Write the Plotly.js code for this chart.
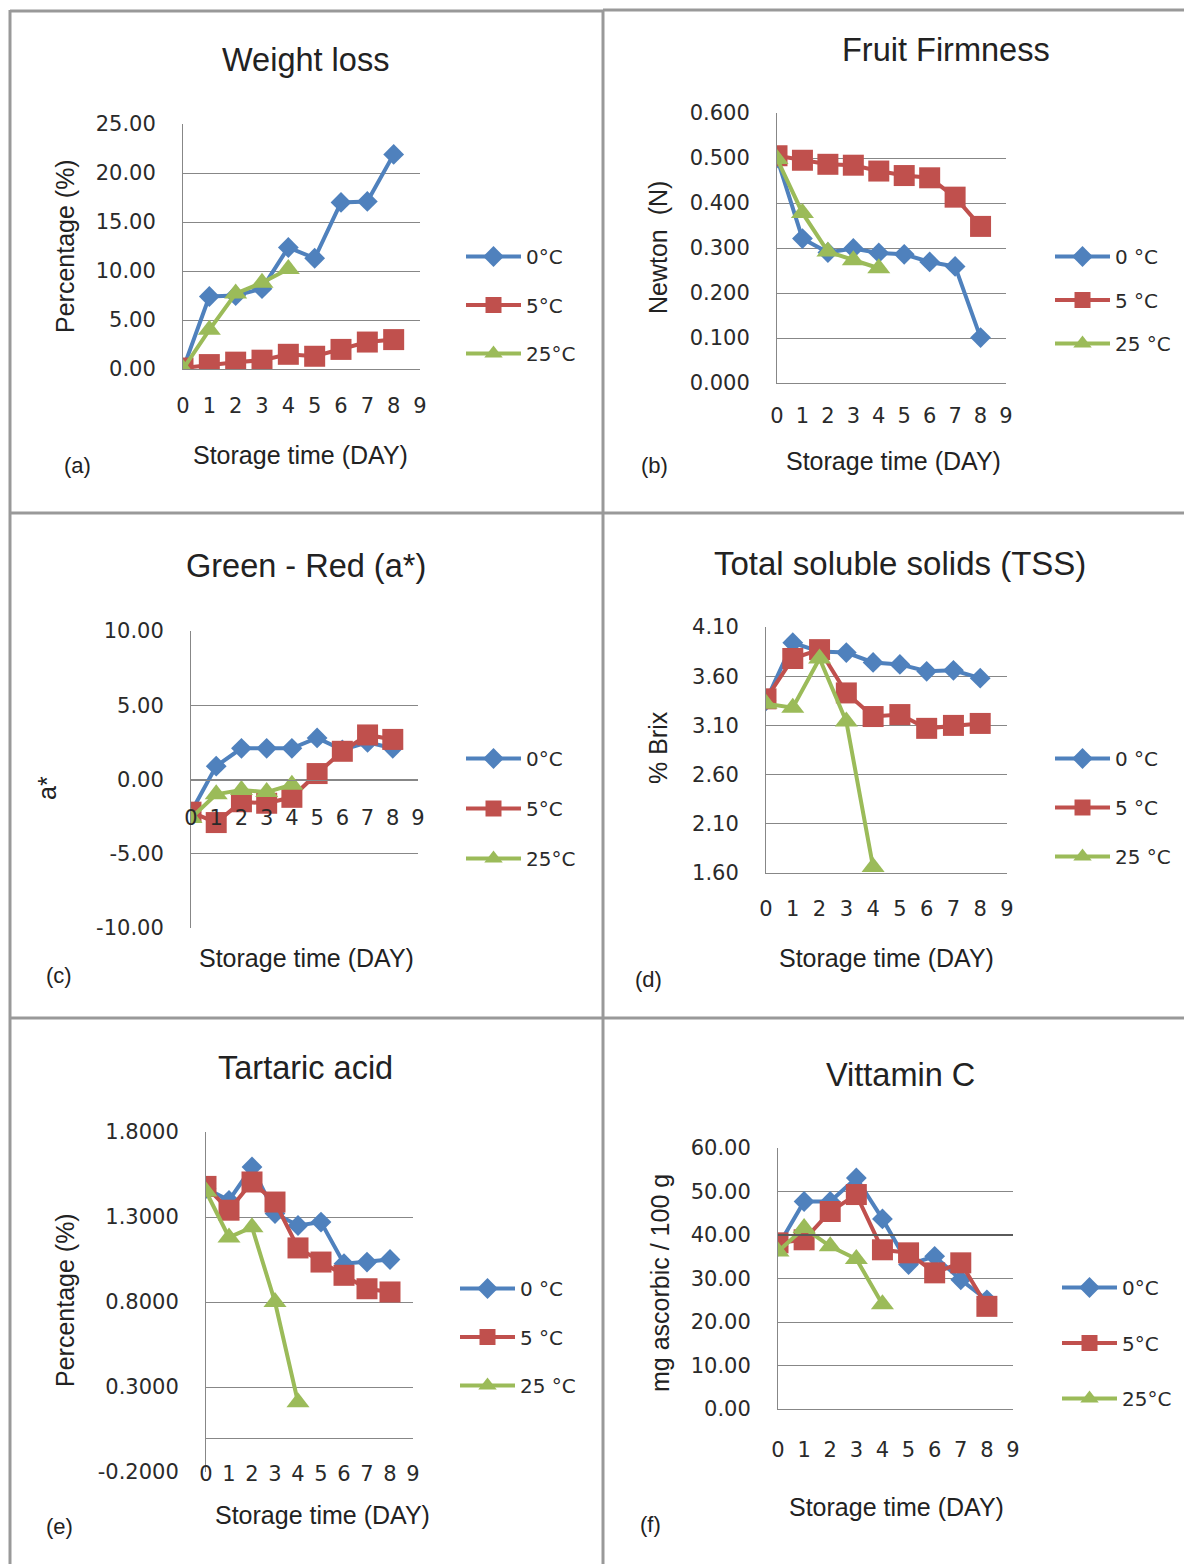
<!DOCTYPE html>
<html><head><meta charset="utf-8">
<script src="https://cdn.plot.ly/plotly-3.0.1.min.js"></script>
<style>html,body{margin:0;padding:0;background:#fff}</style>
</head><body><div id="chart" style="width:1184px;height:1564px"></div>
<script>
// ---------- data ----------
const days = [0, 1, 2, 3, 4, 5, 6, 7, 8];
const days25 = [0, 1, 2, 3, 4];
const xTickVals = [0, 1, 2, 3, 4, 5, 6, 7, 8, 9];
const xTickText = ['0', '1', '2', '3', '4', '5', '6', '7', '8', '9'];

const weightLoss0 = [0.0, 7.4, 7.5, 8.2, 12.4, 11.3, 17.0, 17.1, 21.9];
const weightLoss5 = [0.1, 0.45, 0.7, 0.9, 1.5, 1.3, 2.0, 2.75, 3.0];
const weightLoss25 = [0.0, 4.0, 7.7, 8.8, 10.2];
const weightLossTicks = [0, 5, 10, 15, 20, 25];
const weightLossTickText = ['0.00', '5.00', '10.00', '15.00', '20.00', '25.00'];

const firmness0 = [0.500, 0.321, 0.290, 0.299, 0.289, 0.286, 0.269, 0.259, 0.101];
const firmness5 = [0.505, 0.495, 0.486, 0.484, 0.471, 0.461, 0.456, 0.413, 0.348];
const firmness25 = [0.498, 0.378, 0.292, 0.273, 0.255];
const firmnessTicks = [0, 0.1, 0.2, 0.3, 0.4, 0.5, 0.6];
const firmnessTickText = ['0.000', '0.100', '0.200', '0.300', '0.400', '0.500', '0.600'];

const aStar0 = [-2.2, 0.9, 2.1, 2.1, 2.1, 2.8, 2.0, 2.5, 2.1];
const aStar5 = [-2.2, -2.9, -1.5, -1.6, -1.2, 0.4, 1.9, 3.0, 2.7];
const aStar25 = [-2.6, -1.0, -0.7, -0.85, -0.35];
const aStarTicks = [-10, -5, 0, 5, 10];
const aStarTickText = ['-10.00', '-5.00', '0.00', '5.00', '10.00'];

const tss0 = [3.35, 3.94, 3.85, 3.84, 3.74, 3.72, 3.65, 3.66, 3.58];
const tss5 = [3.37, 3.78, 3.87, 3.43, 3.19, 3.21, 3.07, 3.10, 3.12];
const tss25 = [3.32, 3.28, 3.78, 3.14, 1.66];
const tssTicks = [1.6, 2.1, 2.6, 3.1, 3.6, 4.1];
const tssTickText = ['1.60', '2.10', '2.60', '3.10', '3.60', '4.10'];

const tartaric0 = [1.467, 1.398, 1.594, 1.320, 1.250, 1.270, 1.025, 1.035, 1.050];
const tartaric5 = [1.480, 1.340, 1.506, 1.388, 1.118, 1.035, 0.957, 0.878, 0.859];
const tartaric25 = [1.45, 1.18, 1.24, 0.80, 0.21];
const tartaricTicks = [-0.2, 0.3, 0.8, 1.3, 1.8];
const tartaricTickText = ['-0.2000', '0.3000', '0.8000', '1.3000', '1.8000'];

const vitC0 = [37.4, 47.7, 47.7, 53.1, 43.7, 33.2, 35.1, 29.7, 25.1];
const vitC5 = [38.2, 38.9, 45.4, 49.3, 36.6, 35.9, 31.3, 33.6, 23.6];
const vitC25 = [36.2, 41.6, 37.4, 34.5, 24.1];
const vitCTicks = [0, 10, 20, 30, 40, 50, 60];
const vitCTickText = ['0.00', '10.00', '20.00', '30.00', '40.00', '50.00', '60.00'];

const legendA = ['0°C', '5°C', '25°C'];
const legendB = ['0 °C', '5 °C', '25 °C'];

// ---------- layout helpers ----------
const W = 1184, H = 1564;
const px = v => v / W;
const py = v => 1 - v / H;
const C0 = '#4f81bd', C5 = '#c0504d', C25 = '#9bbb59';
const GRID = '#878787';
const TICKFONT = {family: 'DejaVu Sans, Verdana, sans-serif', size: 21, color: '#2a2a2a'};
const TXT = 'Liberation Sans, Arial, sans-serif';
const ITEM_H = 29;

const panels = [
  {s0: weightLoss0, s5: weightLoss5, s25: weightLoss25, names: legendA,
   xpx: [183, 420], ypx: [124, 369], yr: [0, 25], yt: weightLossTicks, ytt: weightLossTickText,
   cross: null, xstand: 18, leg: [461, 237, 48.5],
   title: 'Weight loss', tsize: 32.5, tpos: [305, 60], ytitle: 'Percentage (%)', ytpos: [65, 246],
   xtitle: 'Storage time (DAY)', xtpos: [300, 455], label: '(a)', lpos: [78, 466]},
  {s0: firmness0, s5: firmness5, s25: firmness25, names: legendB,
   xpx: [777, 1006], ypx: [113, 383], yr: [0, 0.6], yt: firmnessTicks, ytt: firmnessTickText,
   cross: null, xstand: 14, leg: [1050, 237, 43.5],
   title: 'Fruit Firmness', tsize: 32.5, tpos: [946, 50], ytitle: 'Newton  (N)', ytpos: [658, 248],
   xtitle: 'Storage time (DAY)', xtpos: [893, 461], label: '(b)', lpos: [654, 466]},
  {s0: aStar0, s5: aStar5, s25: aStar25, names: legendA,
   xpx: [191, 418], ypx: [631, 928], yr: [-10, 10], yt: aStarTicks, ytt: aStarTickText,
   cross: 0, xstand: 19, leg: [461, 739, 50],
   title: 'Green - Red (a*)', tsize: 32.5, tpos: [306, 566], ytitle: 'a*', ytpos: [47, 788],
   xtitle: 'Storage time (DAY)', xtpos: [307, 958], label: '(c)', lpos: [59, 975]},
  {s0: tss0, s5: tss5, s25: tss25, names: legendB,
   xpx: [766, 1007], ypx: [627, 873], yr: [1.6, 4.1], yt: tssTicks, ytt: tssTickText,
   cross: null, xstand: 17, leg: [1050, 739, 49],
   title: 'Total soluble solids (TSS)', tsize: 33, tpos: [900, 563], ytitle: '% Brix', ytpos: [658, 748],
   xtitle: 'Storage time (DAY)', xtpos: [886, 958], label: '(d)', lpos: [648, 979]},
  {s0: tartaric0, s5: tartaric5, s25: tartaric25, names: legendB,
   xpx: [206, 413], ypx: [1132, 1472], yr: [-0.2, 1.8], yt: tartaricTicks, ytt: tartaricTickText,
   cross: 0, xstand: 17, leg: [455, 1269, 48.5],
   title: 'Tartaric acid', tsize: 32.5, tpos: [305, 1068], ytitle: 'Percentage (%)', ytpos: [65, 1300],
   xtitle: 'Storage time (DAY)', xtpos: [322, 1515], label: '(e)', lpos: [59, 1526]},
  {s0: vitC0, s5: vitC5, s25: vitC25, names: legendA,
   xpx: [778, 1013], ypx: [1148, 1409], yr: [0, 60], yt: vitCTicks, ytt: vitCTickText,
   cross: null, xstand: 22, leg: [1057, 1268, 55.5],
   title: 'Vittamin C', tsize: 32.5, tpos: [900, 1075], ytitle: 'mg ascorbic / 100 g', ytpos: [660, 1283],
   xtitle: 'Storage time (DAY)', xtpos: [896, 1507], label: '(f)', lpos: [650, 1524]}
];

const traces = [];
const layout = {
  width: W, height: H, margin: {l: 0, r: 0, t: 0, b: 0},
  paper_bgcolor: '#fff', plot_bgcolor: 'rgba(0,0,0,0)', showlegend: true,
  annotations: [], shapes: []
};

panels.forEach((p, i) => {
  const n = i + 1;
  const xa = n === 1 ? 'x' : 'x' + n;
  const ya = n === 1 ? 'y' : 'y' + n;
  const xKey = n === 1 ? 'xaxis' : 'xaxis' + n;
  const yKey = n === 1 ? 'yaxis' : 'yaxis' + n;
  const legKey = n === 1 ? 'legend' : 'legend' + n;
  const series = [
    {y: p.s0, x: days, c: C0, sym: 'diamond', sz: 16, name: p.names[0]},
    {y: p.s5, x: days, c: C5, sym: 'square', sz: 21, name: p.names[1]},
    {y: p.s25, x: days25, c: C25, sym: 'triangle-up', sz: 20, name: p.names[2]}
  ];
  series.forEach((s, k) => {
    traces.push({
      type: 'scatter', mode: 'lines+markers', x: s.x, y: s.y, name: s.name,
      xaxis: xa, yaxis: ya, legend: legKey, legendgroup: 'g' + n + '_' + k,
      line: {color: s.c, width: 4},
      marker: {symbol: s.sym, size: s.sz, color: s.c, line: {width: 0}},
      hoverinfo: 'skip'
    });
  });
  const yd = [py(p.ypx[1]), py(p.ypx[0])];
  const xaxis = {
    domain: [px(p.xpx[0]), px(p.xpx[1])], range: [0, 9], anchor: ya,
    tickmode: 'array', tickvals: xTickVals, ticktext: xTickText,
    showgrid: false, zeroline: false, showline: true, linecolor: GRID, linewidth: 1,
    ticks: '', tickfont: TICKFONT, ticklabelstandoff: p.xstand, fixedrange: true
  };
  if (p.cross !== null) {
    const frac = (p.cross - p.yr[0]) / (p.yr[1] - p.yr[0]);
    xaxis.anchor = 'free';
    xaxis.position = yd[0] + frac * (yd[1] - yd[0]);
  }
  layout[xKey] = xaxis;
  layout[yKey] = {
    domain: yd, range: p.yr, anchor: xa,
    tickmode: 'array', tickvals: p.yt, ticktext: p.ytt,
    showgrid: true, gridcolor: GRID, gridwidth: 1, zeroline: false,
    showline: true, linecolor: GRID, linewidth: 1,
    ticks: '', tickfont: TICKFONT, ticklabelstandoff: 22, fixedrange: true
  };
  layout[legKey] = {
    x: px(p.leg[0]), y: py(p.leg[1]), xanchor: 'left', yanchor: 'top',
    bgcolor: 'rgba(0,0,0,0)', borderwidth: 0,
    font: {family: 'DejaVu Sans, Verdana, sans-serif', size: 20, color: '#2a2a2a'},
    traceorder: 'grouped', tracegroupgap: p.leg[2] - ITEM_H, itemwidth: 55, itemsizing: 'trace'
  };
  const ann = (text, pos, size, extra) => Object.assign({
    text: text, x: px(pos[0]), y: py(pos[1]), xref: 'paper', yref: 'paper',
    xanchor: 'center', yanchor: 'middle', showarrow: false,
    font: {family: TXT, size: size, color: '#222'}
  }, extra || {});
  layout.annotations.push(ann(p.title, p.tpos, p.tsize));
  layout.annotations.push(ann(p.ytitle, p.ytpos, 25, {textangle: -90}));
  layout.annotations.push(ann(p.xtitle, p.xtpos, 25));
  layout.annotations.push(ann(p.label, p.lpos, 22));
});

// darker 40.00 gridline in panel (f)
layout.shapes.push({type: 'line', xref: 'x6', yref: 'y6', x0: 0, x1: 9, y0: 40, y1: 40,
  line: {color: '#5a5a5a', width: 2}});

// panel borders
const BORDER = {color: '#999999', width: 3};
const hline = (y, x0, x1) => ({type: 'line', xref: 'paper', yref: 'paper',
  x0: px(x0), x1: px(x1), y0: py(y), y1: py(y), line: BORDER});
const vline = (x, y0, y1) => ({type: 'line', xref: 'paper', yref: 'paper',
  x0: px(x), x1: px(x), y0: py(y0), y1: py(y1), line: BORDER});
layout.shapes.push(hline(11, 10, 603), hline(10, 603, 1184),
  hline(513, 10, 1184), hline(1018, 10, 1184),
  vline(10, 10, 1564), vline(603, 10, 1564));

Plotly.newPlot('chart', traces, layout, {staticPlot: true, displayModeBar: false});
</script></body></html>
